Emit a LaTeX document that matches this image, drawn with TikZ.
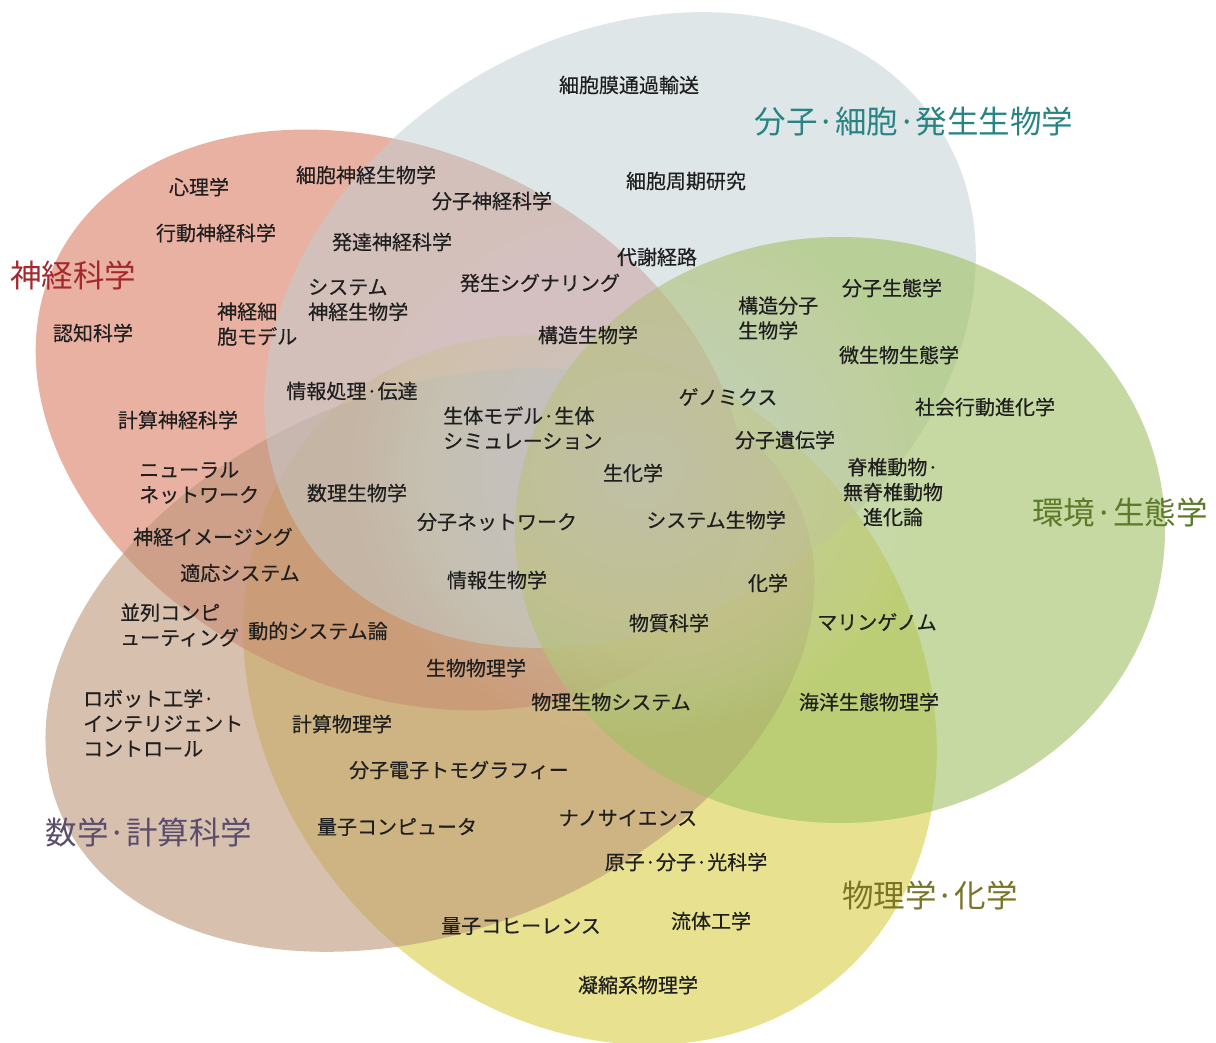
\documentclass[tikz,border=0pt]{standalone}
\usepackage{fontspec}
\newfontfamily\jp{Noto Sans CJK JP}[FakeBold=0.4]
\newfontfamily\jpbig{Noto Sans CJK JP}
\definecolor{cred}{RGB}{218,126,100}
\definecolor{cyel}{RGB}{217,207,70}
\definecolor{cmath}{RGB}{190,150,122}
\definecolor{cblue}{RGB}{193,207,211}
\definecolor{cgreen}{RGB}{160,193,100}
\definecolor{tred}{RGB}{165,40,45}
\definecolor{tteal}{RGB}{40,132,132}
\definecolor{tgreen}{RGB}{92,122,40}
\definecolor{tolive}{RGB}{122,116,38}
\definecolor{tmath}{RGB}{90,78,108}
\begin{document}
\begin{tikzpicture}[x=1pt,y=-1pt,
  lab/.style={font=\jp\fontsize{20}{25}\selectfont, text=black!88, inner sep=0pt, align=left},
  big/.style={font=\jpbig\fontsize{31.5}{36}\selectfont, inner sep=0pt},
  petal/.style={fill opacity=0.6}]
\useasboundingbox (0,0) rectangle (1216,1043);
\fill[white] (0,0) rectangle (1216,1043);
% ellipses
\fill[cyel, petal, shift={(590,690)}, rotate=-48.75] (0,0) ellipse [x radius=380, y radius=319];
\fill[cred, petal, shift={(390,420)}, rotate=-25] (0,0) ellipse [x radius=370, y radius=270];
\fill[cmath, petal, shift={(430,660)}, rotate=22] (0,0) ellipse [x radius=400, y radius=270];
\fill[cblue, fill opacity=0.5, shift={(620,330)}, rotate=32] (0,0) ellipse [x radius=378, y radius=291];
\fill[cgreen, petal] (840,530) ellipse [x radius=325, y radius=293];
% central glow
\foreach \i in {1,...,40}
  \fill[white, fill opacity=0.016] (640,470) ellipse [x radius=\i*7.2, y radius=\i*6.6];
% big labels
\node[big, text=tred]   (Lneuro) at (73,275)   {神経科学};
\node[big, text=tteal]  (Lmol)   at (914,122)  {分子·細胞·発生生物学};
\node[big, text=tgreen] (Lenv)   at (1120,512) {環境·生態学};
\node[big, text=tmath]  (Lmath)  at (149,832)  {数学·計算科学};
\node[big, text=tolive] (Lphys)  at (930,895)  {物理学·化学};
% small labels
\node[lab] (n1) at (629,85) {細胞膜通過輸送};
\node[lab] (n2) at (366,175) {細胞神経生物学};
\node[lab] (n3) at (199,187) {心理学};
\node[lab] (n4) at (492,201) {分子神経科学};
\node[lab] (n5) at (686,181) {細胞周期研究};
\node[lab] (n6) at (216,233) {行動神経科学};
\node[lab] (n7) at (392,242) {発達神経科学};
\node[lab] (n8) at (657,257) {代謝経路};
\node[lab] (n9) at (540,283) {発生シグナリング};
\node[lab, anchor=west] (n10) at (308,300) {システム\\神経生物学};
\node[lab] (n11) at (892,288) {分子生態学};
\node[lab, anchor=west] (n12) at (738,318) {構造分子\\生物学};
\node[lab, anchor=west] (n13) at (217,324) {神経細\\胞モデル};
\node[lab] (n14) at (93,333) {認知科学};
\node[lab] (n15) at (588,335) {構造生物学};
\node[lab] (n16) at (899,355) {微生物生態学};
\node[lab] (n17) at (352,391) {情報処理·伝達};
\node[lab] (n18) at (728,397) {ゲノミクス};
\node[lab] (n19) at (985,407) {社会行動進化学};
\node[lab, anchor=west] (n20) at (443,428) {生体モデル·生体\\シミュレーション};
\node[lab] (n21) at (178,420) {計算神経科学};
\node[lab] (n22) at (785,440) {分子遺伝学};
\node[lab, align=center] (n23) at (893,492) {脊椎動物·\\無脊椎動物\\進化論};
\node[lab, anchor=west] (n24) at (139,483) {ニューラル\\ネットワーク};
\node[lab] (n25) at (633,473) {生化学};
\node[lab] (n26) at (357,493) {数理生物学};
\node[lab] (n27) at (497,522) {分子ネットワーク};
\node[lab] (n28) at (716,520) {システム生物学};
\node[lab] (n29) at (213,537) {神経イメージング};
\node[lab] (n30) at (240,573) {適応システム};
\node[lab] (n31) at (497,580) {情報生物学};
\node[lab] (n32) at (768,583) {化学};
\node[lab, anchor=west] (n33) at (120,625) {並列コンピ\\ューティング};
\node[lab] (n34) at (318,631) {動的システム論};
\node[lab] (n35) at (669,623) {物質科学};
\node[lab] (n36) at (877,622) {マリンゲノム};
\node[lab] (n37) at (476,668) {生物物理学};
\node[lab, anchor=west] (n38) at (83,723) {ロボット工学·\\インテリジェント\\コントロール};
\node[lab] (n39) at (611,702) {物理生物システム};
\node[lab] (n40) at (869,702) {海洋生態物理学};
\node[lab] (n41) at (342,724) {計算物理学};
\node[lab] (n42) at (459,770) {分子電子トモグラフィー};
\node[lab] (n43) at (397,827) {量子コンピュータ};
\node[lab] (n44) at (628,818) {ナノサイエンス};
\node[lab] (n45) at (686,862) {原子·分子·光科学};
\node[lab] (n46) at (521,926) {量子コヒーレンス};
\node[lab] (n47) at (711,921) {流体工学};
\node[lab] (n48) at (638,985) {凝縮系物理学};
\end{tikzpicture}
\end{document}
